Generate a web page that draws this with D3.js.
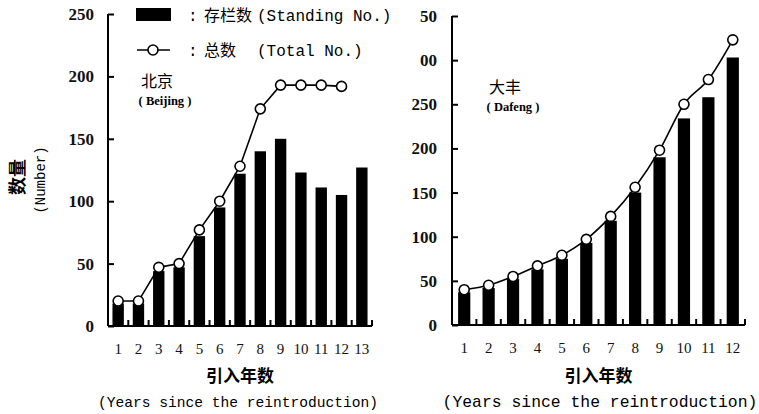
<!DOCTYPE html>
<html>
<head>
<meta charset="utf-8">
<script src="https://cdnjs.cloudflare.com/ajax/libs/d3/7.8.5/d3.min.js"></script>
<style>
  body { margin: 0; background: #fff; }
  svg { display: block; }
</style>
</head>
<body>
<div id="vis-tag"></div>
<script>
// 北京 (Beijing)
const bjYears = ["1","2","3","4","5","6","7","8","9","10","11","12","13"];
const bjStanding = [18, 18, 44, 47, 72, 95, 122, 140, 150, 123, 111, 105, 127];
const bjTotal = [20, 20, 47, 50, 77, 100, 128, 174, 193, 193, 193, 192];
const bjTicks = [0, 50, 100, 150, 200, 250];
const bjTickLabels = ["0", "50", "100", "150", "200", "250"];

// 大丰 (Dafeng)
const dfYears = ["1","2","3","4","5","6","7","8","9","10","11","12"];
const dfStanding = [37, 42, 52, 63, 75, 93, 118, 150, 190, 234, 258, 303];
const dfTotal = [40, 45, 55, 67, 79, 97, 123, 156, 198, 250, 278, 323];
const dfTicks = [0, 50, 100, 150, 200, 250, 300, 350];
const dfTickLabels = ["0", "50", "100", "150", "200", "250", "00", "50"];

const W = 759, H = 414;
const serif = "'Liberation Serif', 'DejaVu Serif', serif";
const mono = "'Liberation Mono', 'DejaVu Sans Mono', monospace";
const cjk = "'Noto Sans CJK SC', sans-serif";

const svg = d3.select("#vis-tag").append("svg")
  .attr("width", W).attr("height", H);

function drawPanel(opt) {
  const g = svg.append("g");
  const x = d3.scaleBand().domain(opt.years).range([opt.x0, opt.x1]).padding(0);
  const y = d3.scaleLinear().domain([0, opt.ymax]).range([opt.y0, opt.y1]);
  const bw = x.bandwidth() * opt.barRatio;

  // 柱子
  g.selectAll("rect.bar").data(opt.standing).enter().append("rect")
    .attr("class", "bar")
    .attr("x", (d, i) => x(opt.years[i]) + (x.bandwidth() - bw) / 2)
    .attr("y", d => y(d))
    .attr("width", bw)
    .attr("height", d => y(0) - y(d))
    .attr("fill", "#000");

  // Y轴 (刻度朝内)
  const yAxis = g.append("g")
    .attr("transform", `translate(${opt.x0},0)`)
    .call(d3.axisRight(y).tickValues(opt.ticks).tickSize(6)
      .tickFormat((d, i) => opt.tickLabels[i]));
  yAxis.select(".domain").attr("stroke", "#000").attr("stroke-width", 2)
    .attr("d", `M0,${opt.y1}V${opt.y0}`);
  yAxis.selectAll(".tick line").attr("stroke", "#000").attr("stroke-width", 2);
  yAxis.selectAll(".tick text")
    .attr("x", -opt.labelGap).attr("text-anchor", "end")
    .attr("font-family", serif).attr("font-size", 17).attr("font-weight", "bold")
    .attr("fill", "#111");

  // X轴
  const xAxis = g.append("g").attr("transform", `translate(0,${opt.y0})`);
  xAxis.append("path")
    .attr("d", `M${opt.x0},0H${opt.x1}`)
    .attr("stroke", "#000").attr("stroke-width", 2).attr("fill", "none");
  const bounds = opt.years.map(d => x(d) + x.bandwidth());
  xAxis.selectAll("line.xt").data(bounds).enter().append("line")
    .attr("x1", d => d).attr("x2", d => d)
    .attr("y1", 0).attr("y2", -6)
    .attr("stroke", "#000").attr("stroke-width", 2);
  xAxis.selectAll("text.xl").data(opt.years).enter().append("text")
    .attr("x", d => x(d) + x.bandwidth() / 2)
    .attr("y", 28)
    .attr("text-anchor", "middle")
    .attr("font-family", serif).attr("font-size", 15)
    .attr("fill", "#111")
    .text(d => d);

  // 折线
  const line = d3.line()
    .x((d, i) => x(opt.years[i]) + x.bandwidth() / 2)
    .y(d => y(d))
    .curve(opt.curve);
  g.append("path").datum(opt.total)
    .attr("d", line)
    .attr("fill", "none").attr("stroke", "#000").attr("stroke-width", 1.6);
  g.selectAll("circle.pt").data(opt.total).enter().append("circle")
    .attr("cx", (d, i) => x(opt.years[i]) + x.bandwidth() / 2)
    .attr("cy", d => y(d))
    .attr("r", 5)
    .attr("fill", "#fff").attr("stroke", "#000").attr("stroke-width", 1.6);

  // 地名
  g.append("text").attr("x", opt.nameX).attr("y", opt.nameY)
    .attr("text-anchor", "middle").attr("font-family", cjk).attr("font-size", 16)
    .attr("fill", "#000").text(opt.name);
  g.append("text").attr("x", opt.nameX + 8).attr("y", opt.nameY + 18)
    .attr("text-anchor", "middle").attr("font-family", serif).attr("font-size", 12.5)
    .attr("font-weight", "bold").attr("fill", "#000").text(opt.nameEn);

  // X轴标题
  const cx = (opt.x0 + opt.x1) / 2;
  g.append("text").attr("x", cx).attr("y", 382)
    .attr("text-anchor", "middle").attr("font-family", cjk).attr("font-size", 17)
    .attr("font-weight", "bold").attr("fill", "#000").text("引入年数");
  g.append("text").attr("x", opt.enX).attr("y", 407)
    .attr("text-anchor", "middle").attr("font-family", mono).attr("font-size", opt.enSize)
    .attr("fill", "#000").text("(Years since the reintroduction)");
}

drawPanel({
  years: bjYears, standing: bjStanding, total: bjTotal,
  ticks: bjTicks, tickLabels: bjTickLabels, ymax: 250,
  x0: 108, x1: 372, y0: 326, y1: 14, barRatio: 0.56, labelGap: 14,
  curve: d3.curveLinear, name: "北京", nameEn: "( Beijing )",
  nameX: 157, nameY: 87, enX: 238, enSize: 14.6
});

drawPanel({
  years: dfYears, standing: dfStanding, total: dfTotal,
  ticks: dfTicks, tickLabels: dfTickLabels, ymax: 350,
  x0: 452, x1: 745, y0: 325, y1: 16, barRatio: 0.5, labelGap: 15,
  curve: d3.curveMonotoneX, name: "大丰", nameEn: "( Dafeng )",
  nameX: 505, nameY: 93, enX: 600, enSize: 16.4
});

// Y轴标题
svg.append("text").attr("transform", "translate(24,177) rotate(-90)")
  .attr("text-anchor", "middle").attr("font-family", cjk).attr("font-size", 18)
  .attr("font-weight", "bold").attr("fill", "#000").text("数量");
svg.append("text").attr("transform", "translate(45,180) rotate(-90)")
  .attr("text-anchor", "middle").attr("font-family", mono).attr("font-size", 14)
  .attr("fill", "#000").text("(Number)");

// 图例
const lg = svg.append("g").attr("font-size", 16).attr("fill", "#000");
lg.append("rect").attr("x", 136).attr("y", 8).attr("width", 35).attr("height", 13).attr("fill", "#000");
const t1 = lg.append("text").attr("y", 21);
t1.append("tspan").attr("x", 188).attr("font-family", mono).text(":");
t1.append("tspan").attr("x", 204).attr("font-family", cjk).text("存栏数");
t1.append("tspan").attr("x", 257).attr("font-family", mono).text("(Standing No.)");
lg.append("line").attr("x1", 137).attr("x2", 170).attr("y1", 50).attr("y2", 50)
  .attr("stroke", "#000").attr("stroke-width", 1.6);
lg.append("circle").attr("cx", 153).attr("cy", 50).attr("r", 5)
  .attr("fill", "#fff").attr("stroke", "#000").attr("stroke-width", 1.6);
const t2 = lg.append("text").attr("y", 56);
t2.append("tspan").attr("x", 188).attr("font-family", mono).text(":");
t2.append("tspan").attr("x", 204).attr("font-family", cjk).text("总数");
t2.append("tspan").attr("x", 257).attr("font-family", mono).text("(Total No.)");
</script>
</body>
</html>
